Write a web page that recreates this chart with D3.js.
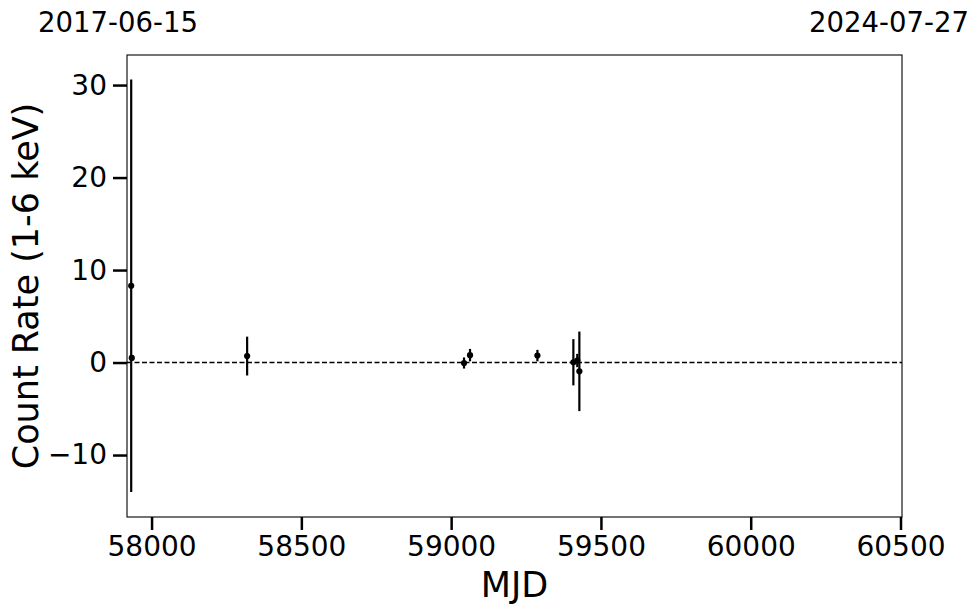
<!DOCTYPE html>
<html>
<head>
<meta charset="utf-8">
<script src="https://cdn.jsdelivr.net/npm/d3@7"></script>
<style>
  html, body { margin: 0; padding: 0; background: #fff; }
  svg { display: block; }
  text { font-family: "DejaVu Sans", sans-serif; fill: #000; }
</style>
</head>
<body>
<svg id="chart" width="980" height="613"></svg>
<script>
// ---- data ----
const mjd  = [57932, 57934, 58319, 59043, 59063, 59288, 59408, 59421, 59428];
const rate = [8.3,   0.5,   0.7,   -0.05, 0.8,   0.75,  0.03,  0.22,  -0.95];
const err  = [22.3,  0.3,   2.1,   0.6,   0.67,  0.62,  2.5,   0.72,  4.3];
const xTicks = [58000, 58500, 59000, 59500, 60000, 60500];
const yTicks = [-10, 0, 10, 20, 30];
const dateLabels = ["2017-06-15", "2024-07-27"];
const xDomain = [57918, 60505];
const yDomain = [-16.7, 33.25];

const svg = d3.select("#chart");
const L = 127, R = 902, T = 55, B = 517;

const x = d3.scaleLinear().domain(xDomain).range([L, R]);
const y = d3.scaleLinear().domain(yDomain).range([B, T]);

// zero line
svg.append("line")
  .attr("x1", L).attr("x2", R).attr("y1", y(0)).attr("y2", y(0))
  .attr("stroke", "#000").attr("stroke-width", 1.5)
  .attr("stroke-dasharray", "5,2.5");

const pts = mjd.map((m, i) => ({ m, r: rate[i], e: err[i] }));

// error bars
svg.append("g").selectAll("line").data(pts).join("line")
  .attr("x1", d => x(d.m)).attr("x2", d => x(d.m))
  .attr("y1", d => y(d.r - d.e)).attr("y2", d => y(d.r + d.e))
  .attr("stroke", "#000").attr("stroke-width", 2.2);

// points
svg.append("g").selectAll("circle").data(pts).join("circle")
  .attr("cx", d => x(d.m)).attr("cy", d => y(d.r)).attr("r", 3.1)
  .attr("fill", "#000");

// frame
svg.append("rect")
  .attr("x", L).attr("y", T).attr("width", R - L).attr("height", B - T)
  .attr("fill", "none").attr("stroke", "#000").attr("stroke-width", 1.1);

// x axis
const xAxis = d3.axisBottom(x).tickValues(xTicks).tickSize(13).tickPadding(6).tickFormat(d3.format("d"));
const gx = svg.append("g").attr("transform", `translate(0,${B})`).call(xAxis);
gx.select(".domain").remove();
gx.selectAll(".tick line").attr("stroke", "#000").attr("stroke-width", 2.5);
gx.selectAll(".tick text").attr("font-size", 28).attr("font-family", "DejaVu Sans").attr("fill", "#000");

// y axis
const yAxis = d3.axisLeft(y).tickValues(yTicks).tickSize(14).tickPadding(6)
  .tickFormat(d => d < 0 ? "\u2212" + Math.abs(d) : String(d));
const gy = svg.append("g").attr("transform", `translate(${L},0)`).call(yAxis);
gy.select(".domain").remove();
gy.selectAll(".tick line").attr("stroke", "#000").attr("stroke-width", 2.5);
gy.selectAll(".tick text").attr("font-size", 28).attr("font-family", "DejaVu Sans").attr("fill", "#000");

// axis labels
svg.append("text").attr("x", (L + R) / 2).attr("y", 597)
  .attr("text-anchor", "middle").attr("font-size", 35).text("MJD");
svg.append("text")
  .attr("transform", `translate(38,${(T + B) / 2}) rotate(-90)`)
  .attr("text-anchor", "middle").attr("font-size", 35).text("Count Rate (1-6 keV)");

// date labels at top
svg.append("text").attr("x", 118).attr("y", 32).attr("text-anchor", "middle")
  .attr("font-size", 27.5).text(dateLabels[0]);
svg.append("text").attr("x", 889).attr("y", 32).attr("text-anchor", "middle")
  .attr("font-size", 27.5).text(dateLabels[1]);
</script>
</body>
</html>
